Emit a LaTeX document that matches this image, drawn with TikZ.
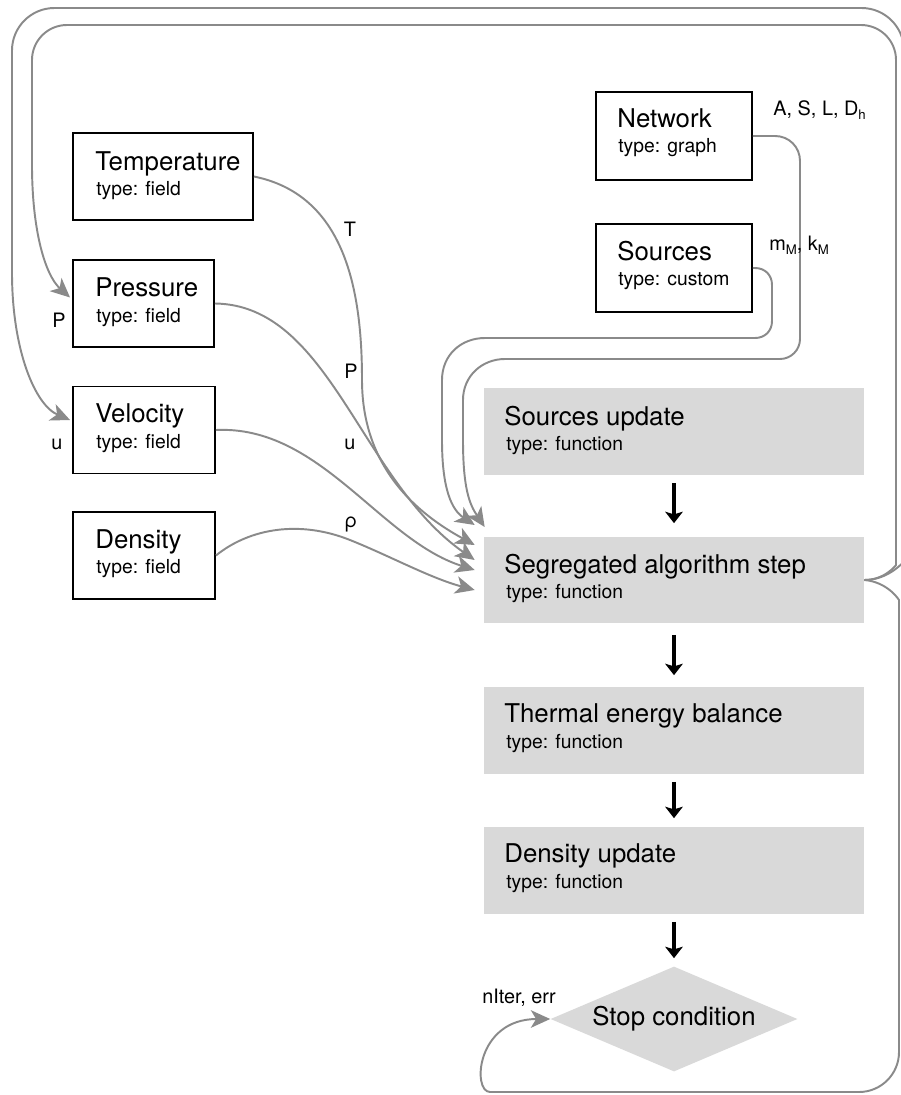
\documentclass[tikz,border=0pt]{standalone}
\usepackage{fontspec}
\setmainfont{TeX Gyre Heros}
\usetikzlibrary{arrows.meta,shapes.geometric}
\definecolor{lcol}{HTML}{8A8A8A}
\definecolor{boxgray}{HTML}{D9D9D9}
\newcommand{\subtxt}[1]{\raisebox{-0.45ex}{\fontsize{7.5}{8}\selectfont #1}}
\begin{document}
\begin{tikzpicture}[x=0.02cm,y=-0.02cm,
  fbox/.style={draw=black, line width=1.1pt, fill=white, minimum height=1.74cm, inner sep=0},
  gbox/.style={fill=boxgray, minimum width=7.6cm, minimum height=1.74cm, inner sep=0},
  ttl/.style={font=\fontsize{14.7}{17}\selectfont, inner sep=0, anchor=base west},
  typ/.style={font=\fontsize{11}{13}\selectfont, inner sep=0, anchor=base west},
  lbl/.style={font=\fontsize{11.3}{13}\selectfont, inner sep=0},
  gline/.style={draw=lcol, line width=1.1pt},
  garr/.style={gline, -{Stealth[length=11pt,width=10pt,inset=3pt]}},
  barr/.style={draw=black, line width=2.4pt, -{Stealth[length=6.5pt,width=10pt,inset=1.5pt]}}
]
\clip (0,0) rectangle (901,1095);
\fill[white] (0,0) rectangle (901,1095);

% white boxes
\node[fbox, minimum width=3.6cm] (temp) at (163,176.5) {};
\node[ttl] (tempA) at (95,170) {Temperature};
\node[typ] (tempB) at (96,195) {type: field};

\node[fbox, minimum width=2.82cm] (pres) at (143.5,303.5) {};
\node[ttl] (presA) at (95,296) {Pressure};
\node[typ] (presB) at (96,322) {type: field};

\node[fbox, minimum width=2.84cm] (vel) at (144,430) {};
\node[ttl] (velA) at (95,422) {Velocity};
\node[typ] (velB) at (96,448) {type: field};

\node[fbox, minimum width=2.84cm] (dens) at (144,555.5) {};
\node[ttl] (densA) at (95,548) {Density};
\node[typ] (densB) at (96,573) {type: field};

\node[fbox, minimum width=3.12cm, minimum height=1.76cm] (net) at (674,136) {};
\node[ttl] (netA) at (617,128) {Network};
\node[typ] (netB) at (618,153) {type: graph};

\node[fbox, minimum width=3.12cm, minimum height=1.76cm] (src) at (674,268) {};
\node[ttl] (srcA) at (617,260) {Sources};
\node[typ] (srcB) at (618,285) {type: custom};

% gray boxes
\node[gbox] (su) at (674,431.5) {};
\node[ttl] (suA) at (504,425) {Sources update};
\node[typ] (suB) at (506,450) {type: function};

\node[gbox] (seg) at (674,580) {};
\node[ttl] (segA) at (504,573) {Segregated algorithm step};
\node[typ] (segB) at (506,598) {type: function};

\node[gbox] (th) at (674,730) {};
\node[ttl] (thA) at (504,722) {Thermal energy balance};
\node[typ] (thB) at (506,748) {type: function};

\node[gbox] (du) at (674,870) {};
\node[ttl] (duA) at (504,862) {Density update};
\node[typ] (duB) at (506,888) {type: function};

\node[diamond, fill=boxgray, aspect=2.35, inner sep=0, minimum width=4.94cm, minimum height=2.1cm,
      font=\fontsize{14.7}{17}\selectfont] (stop) at (674,1019) {Stop condition};

% black arrows
\draw[barr] ([yshift=-0.16cm]su.south) -- ([yshift=0.26cm]seg.north);
\draw[barr] ([yshift=-0.22cm]seg.south) -- ([yshift=0.22cm]th.north);
\draw[barr] ([yshift=-0.16cm]th.south) -- ([yshift=0.16cm]du.north);
\draw[barr] ([yshift=-0.16cm]du.south) -- ([yshift=0.16cm]stop.north);

% field inputs
\draw[garr] (temp.east) .. controls (345,195) and (362,290) .. (362,380)
  .. controls (362,470) and (420,515) .. ([shift={(-9,-35)}]seg.west);
\draw[garr] (pres.east) .. controls (330,305) and (360,480) .. ([shift={(-9,-20)}]seg.west);
\draw[garr] (vel.east) .. controls (320,425) and (380,540) .. ([shift={(-9,-10)}]seg.west);
\draw[garr] (dens.east) .. controls (250,528) and (300,520) .. (350,540)
  .. controls (390,556) and (430,578) .. ([shift={(-9,10)}]seg.west);

% network and sources
\draw[garr] (src.east) -- (755,268) .. controls (765,268) and (772,275) .. (772,285)
  -- (772,321) .. controls (772,331) and (765,338) .. (755,338)
  -- (485,338) .. controls (461,338) and (442,355) .. (442,380)
  -- (442,440) .. controls (442,490) and (452,510) .. ([shift={(-9,-55)}]seg.west);
\draw[garr] (net.east) -- (775,136) .. controls (789,136) and (800,147) .. (800,161)
  -- (800,339) .. controls (800,350) and (791,359) .. (780,359)
  -- (505,359) .. controls (482,359) and (463,376) .. (463,400)
  -- (463,440) .. controls (463,490) and (470,505) .. ([shift={(1,-53)}]seg.west);

% feedback loops
\draw[garr, rounded corners=0.7cm] (seg.east) .. controls (885,580) and (896,565) .. (896,530)
  -- (896,25) -- (32,25) -- (32,130)
  .. controls (32,230) and (45,275) .. ([shift={(-2,-6)}]pres.west);
\draw[garr, rounded corners=0.85cm] (seg.east) .. controls (890,580) and (904,560) .. (904,520)
  -- (904,8) -- (12,8) -- (12,230)
  .. controls (12,350) and (35,405) .. ([shift={(-2,-10)}]vel.west);
\draw[garr, rounded corners=0.8cm] (seg.east) .. controls (888,582) and (899,600) .. (899,640)
  -- (899,1092) -- (530,1092)
  .. controls (472,1092) and (476,1019) .. (stop.west);

% labels
\node[lbl] (lT) at (350,229) {T};
\node[lbl] (lP) at (351,371) {P};
\node[lbl] (lu) at (350,444) {u};
\node[lbl] (lrho) at (351,524) {ρ};
\node[lbl] (lP2) at (59,320) {P};
\node[lbl] (lu2) at (57,444) {u};
\node[lbl, anchor=base west] (lnet) at (773,115) {A, S, L, D\subtxt{h}};
\node[lbl, anchor=base west] (lsrc) at (769,250) {m\subtxt{M}, k\subtxt{M}};
\node[lbl, anchor=base west] (lstop) at (482,1003) {nIter, err};
\end{tikzpicture}
\end{document}
